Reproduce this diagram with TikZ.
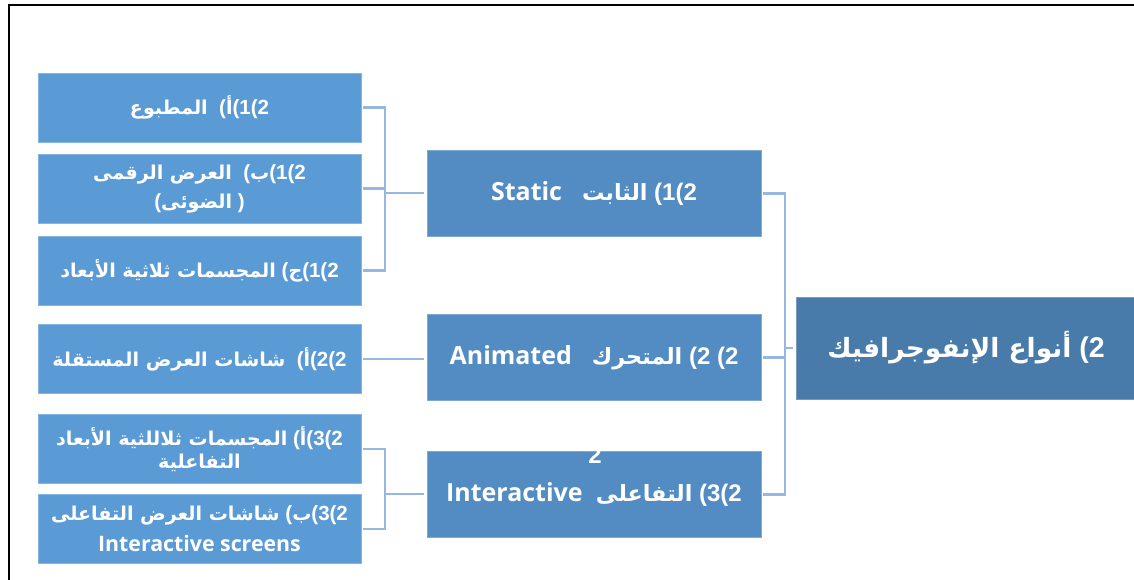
\documentclass[tikz,border=0pt]{standalone}
\usepackage{fontspec}
\setmainfont{Liberation Sans}
\newfontfamily\arabicfont[Script=Arabic,Scale=0.93]{DejaVu Sans}
\newfontfamily\latinfont[Scale=1.04]{Open Sans}
\TeXXeTstate=1
\usetikzlibrary{positioning}
\newcommand{\artext}[1]{{\arabicfont\beginR #1\endR}}
\definecolor{leafblue}{RGB}{91,155,213}
\definecolor{typeblue}{RGB}{83,140,194}
\definecolor{rootblue}{RGB}{72,122,170}
\definecolor{linkblue}{RGB}{150,183,226}
\tikzset{LeafStyle/.style = {
			shape          = rectangle,
			fill           = leafblue,
			draw           = leafblue!75!white,
			line width     = 0.8pt,
			text           = white,
			font           = \bfseries\fontsize{20.5}{24}\selectfont,
			align          = center,
			inner sep      = 0pt,
			minimum width  = 323pt,
			minimum height = 69pt}
			}
\tikzset{TypeStyle/.style = {
			LeafStyle,
			fill           = typeblue,
			draw           = typeblue!75!white,
			font           = \bfseries\fontsize{24}{28}\selectfont,
			minimum width  = 334pt,
			minimum height = 86pt}
			}
\tikzset{RootStyle/.style = {
			LeafStyle,
			fill           = rootblue,
			draw           = rootblue!75!white,
			font           = \bfseries\fontsize{28.5}{33}\selectfont,
			minimum width  = 340pt,
			minimum height = 102pt}
			}
\tikzset{LinkStyle/.style = {draw=linkblue, line width=2.5pt}}

\begin{document}
\begin{tikzpicture}[x=1pt,y=-1pt]
	\useasboundingbox (0,0) rectangle (1134,580);
	\draw[line width=2pt] (9,580) -- (9,5) -- (1134,5);

	% leaves
	\draw (199.5,107.5) node[LeafStyle]   (L1) {\artext{المطبوع}\ \ (\artext{أ}(1(2};
	\draw (199.5,188.5) node[LeafStyle]   (L2) {\artext{العرض الرقمى}\ \ (\artext{ب}(1(2\\[5pt](\artext{الضوئى}\ )};
	\draw (199.5,270.5) node[LeafStyle]   (L3) {\artext{المجسمات ثلاثية الأبعاد}\ (\artext{ج}(1(2};
	\draw (199.5,359)   node[LeafStyle]   (L4) {\artext{شاشات العرض المستقلة}\ \ (\artext{أ}(2(2};
	\draw (199.5,449)   node[LeafStyle]   (L5) {\artext{المجسمات ثلاللثية الأبعاد}\ (\artext{أ}(3(2\\[-1pt]\artext{التفاعلية}};
	\draw (199.5,529)   node[LeafStyle]   (L6) {\artext{شاشات العرض التفاعلى}\ (\artext{ب}(3(2\\[7pt]{\latinfont Interactive screens}};

	% types
	\draw (594,193.5) node[TypeStyle]   (M1) {{\latinfont Static}\ \ \ \artext{الثابت}\ (1(2};
	\draw (594,357.5) node[TypeStyle]   (M2) {{\latinfont Animated}\ \ \ \artext{المتحرك}\ (2\ (2};
	\draw (594,494.5) node[TypeStyle]   (M3) {{\latinfont Interactive}\ \ \artext{التفاعلى}\ (3(2};
	\draw (595,463) node[anchor=base, text=white, font=\bfseries\fontsize{24}{28}\selectfont] (M3b) {2};

	% root
	\draw (966,348) node[RootStyle]   (R) {\artext{أنواع الإنفوجرافيك}\ (2};

	\coordinate (J1) at (385,193);
	\coordinate (J3) at (385,494);
	\coordinate (JR) at (785,348);

	\draw[LinkStyle]    ([xshift=2pt]L1.east) -| (J1) |- ([xshift=2pt]L3.east);
	\draw[LinkStyle]    ([xshift=2pt]L2.east) -- (L2.east -| J1);
	\draw[LinkStyle]    (J1) -- ([xshift=-3pt]M1.west |- J1);

	\draw[LinkStyle]    ([xshift=2pt]L4.east) -- ([xshift=-3pt]M2.west |- L4.east);

	\draw[LinkStyle]    ([xshift=2pt]L5.east) -| (J3) |- ([xshift=2pt]L6.east);
	\draw[LinkStyle]    (J3) -- ([xshift=-3pt]M3.west |- J3);

	\draw[LinkStyle]    ([xshift=2pt]M1.east) -| (JR) |- ([xshift=2pt]M3.east);
	\draw[LinkStyle]    ([xshift=2pt]M2.east) -- (M2.east -| JR);
	\draw[LinkStyle]    (JR) -- ([xshift=-3pt]R.west);
\end{tikzpicture}
\end{document}
